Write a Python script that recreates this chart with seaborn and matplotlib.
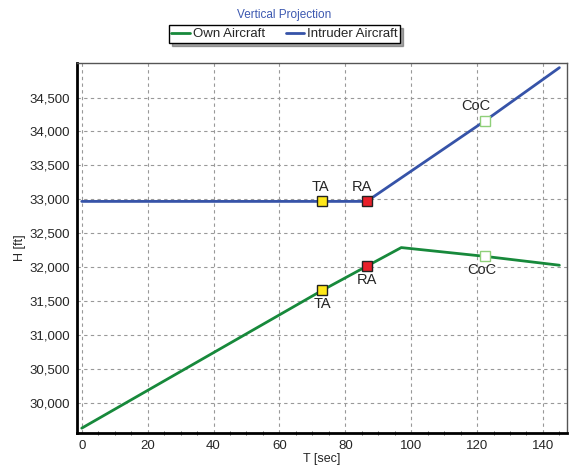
import matplotlib
matplotlib.use("Agg")
import matplotlib.pyplot as plt
import matplotlib.ticker as mticker
import seaborn as sns
import pandas as pd

# Data
own_t = [0, 73, 86.5, 97, 122.5, 145]
own_h = [29630, 31660, 32015, 32290, 32160, 32030]
intr_t = [0, 86.5, 122.5, 145]
intr_h = [32970, 32970, 34160, 34940]

ta_t, ra_t, coc_t = 73, 86.5, 122.5
own_ta, own_ra, own_coc = 31660, 32015, 32160
intr_ta, intr_ra, intr_coc = 32970, 32970, 34160

xticks = [0, 20, 40, 60, 80, 100, 120, 140]
yticks = [30000, 30500, 31000, 31500, 32000, 32500, 33000, 33500, 34000, 34500]

sns.set_style("white")
plt.rcParams['font.family'] = ['Liberation Sans', 'DejaVu Sans']

GREEN = "#17893b"
BLUE = "#3653a8"

df = pd.concat([
    pd.DataFrame({"T": own_t, "H": own_h, "series": "Own Aircraft"}),
    pd.DataFrame({"T": intr_t, "H": intr_h, "series": "Intruder Aircraft"}),
])

fig = plt.figure(figsize=(5.69, 4.66), dpi=100)
ax = fig.add_axes([0.135, 0.071, 0.862, 0.794])

sns.lineplot(data=df, x="T", y="H", hue="series", palette={"Own Aircraft": GREEN, "Intruder Aircraft": BLUE},
             linewidth=2.0, ax=ax, legend=True, sort=False)

# Event markers
def mark(x, y, face, edge):
    ax.plot([x], [y], marker="s", markersize=7.5, markerfacecolor=face, markeredgecolor=edge,
            markeredgewidth=1.0, linestyle="none", zorder=5)

mark(ta_t, intr_ta, "#ffe81a", "#222222")
mark(ra_t, intr_ra, "#e8202a", "#222222")
mark(ta_t, own_ta, "#ffe81a", "#222222")
mark(ra_t, own_ra, "#e8202a", "#222222")
mark(coc_t, own_coc, "white", "#8fd07a")
mark(coc_t, intr_coc, "white", "#8fd07a")

fs = 10.5
ax.text(ta_t - 0.5, intr_ta + 110, "TA", ha="center", va="bottom", fontsize=fs)
ax.text(ra_t - 1.5, intr_ra + 110, "RA", ha="center", va="bottom", fontsize=fs)
ax.text(ta_t, own_ta - 100, "TA", ha="center", va="top", fontsize=fs)
ax.text(ra_t, own_ra - 100, "RA", ha="center", va="top", fontsize=fs)
ax.text(coc_t - 1, own_coc - 100, "CoC", ha="center", va="top", fontsize=fs)
ax.text(coc_t - 3, intr_coc + 110, "CoC", ha="center", va="bottom", fontsize=fs)

ax.set_xlim(-1.5, 147.4)
ax.set_ylim(29560, 35010)
ax.set_xticks(xticks)
ax.set_yticks(yticks)
ax.xaxis.set_minor_locator(mticker.MultipleLocator(5))
ax.yaxis.set_major_formatter(mticker.FuncFormatter(lambda v, p: f"{int(v):,}"))
ax.tick_params(axis="both", which="major", labelsize=9.5, length=4, direction="inout", color="#444444", pad=3)
ax.tick_params(axis="x", which="minor", length=3, direction="inout", color="#444444", bottom=True)
ax.grid(True, which="major", linestyle=(0, (3, 3)), color="#999999", linewidth=0.8)

ax.set_xlabel("T [sec]", fontsize=9, labelpad=1)
ax.set_ylabel("H [ft]", fontsize=9, labelpad=2)

for s in ["left", "bottom"]:
    ax.spines[s].set_color("black")
    ax.spines[s].set_linewidth(2.0)
for s in ["top", "right"]:
    ax.spines[s].set_color("#555555")
    ax.spines[s].set_linewidth(1.0)

fig.text(0.5, 0.968, "Vertical Projection", ha="center", va="center", fontsize=8.5, color="#3c58b0")

handles, labels = ax.get_legend_handles_labels()
ax.legend(handles, labels, loc="center", bbox_to_anchor=(0.5, 0.927), bbox_transform=fig.transFigure,
          ncol=2, fontsize=9.5, frameon=True, fancybox=False, shadow=True, handlelength=1.4,
          handletextpad=0.2, columnspacing=1.6, borderpad=0.2, edgecolor="black")
leg = ax.get_legend()
leg.get_frame().set_linewidth(1.0)

fig.savefig("out.png", dpi=100)
